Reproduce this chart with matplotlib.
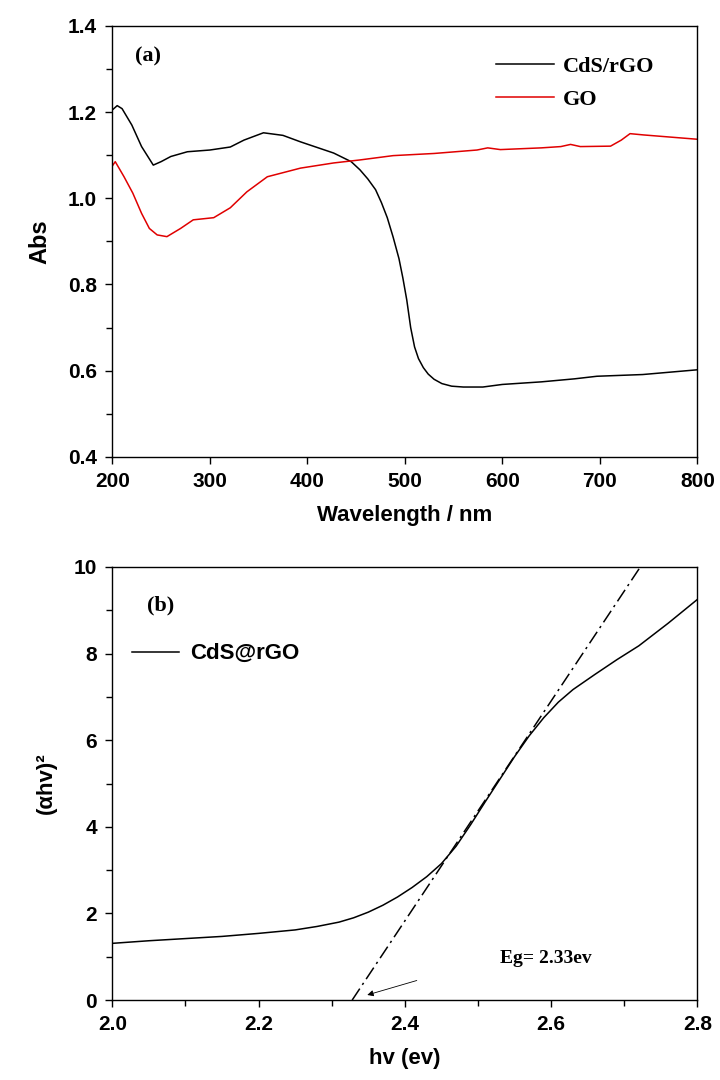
import numpy as np
import matplotlib.pyplot as plt

# panel (a) - absorbance spectra
wl_cds = [200, 205, 210, 220, 230, 242, 250, 260, 277, 300, 321, 335, 355, 375, 393, 410,
          427, 445, 454, 462, 470, 476, 482, 488, 494, 498, 502, 506, 510, 514, 519, 524,
          530, 538, 548, 560, 580, 600, 640, 674, 697, 744, 800]
abs_cds = [1.205, 1.215, 1.208, 1.17, 1.12, 1.077, 1.085, 1.097, 1.108, 1.112, 1.119, 1.135,
           1.152, 1.146, 1.131, 1.118, 1.105, 1.085, 1.066, 1.045, 1.02, 0.99, 0.955, 0.91,
           0.86, 0.815, 0.764, 0.70, 0.655, 0.628, 0.607, 0.592, 0.580, 0.570, 0.564, 0.562,
           0.562, 0.568, 0.574, 0.581, 0.587, 0.591, 0.602]
wl_go = [200, 203, 212, 221, 230, 238, 246, 256, 270, 283, 304, 321, 338, 359, 393, 427,
         454, 488, 530, 574, 585, 598, 640, 660, 670, 680, 711, 722, 731, 745, 800]
abs_go = [1.075, 1.085, 1.05, 1.012, 0.965, 0.93, 0.915, 0.911, 0.93, 0.95, 0.955, 0.978,
          1.015, 1.05, 1.07, 1.082, 1.089, 1.099, 1.104, 1.112, 1.117, 1.113, 1.117, 1.12,
          1.125, 1.12, 1.121, 1.135, 1.15, 1.147, 1.137]

# panel (b) - Tauc plot
hv = [2.00, 2.05, 2.10, 2.15, 2.20, 2.25, 2.28, 2.31, 2.33, 2.35, 2.37, 2.39, 2.41, 2.43,
      2.45, 2.47, 2.49, 2.51, 2.53, 2.55, 2.57, 2.59, 2.61, 2.63, 2.66, 2.69, 2.72, 2.76, 2.80]
ahv2 = [1.31, 1.37, 1.42, 1.47, 1.54, 1.62, 1.70, 1.80, 1.90, 2.03, 2.19, 2.38, 2.60, 2.85,
        3.15, 3.55, 4.05, 4.58, 5.10, 5.62, 6.10, 6.52, 6.88, 7.17, 7.52, 7.86, 8.18, 8.70, 9.25]
tang_x = [2.328, 2.722]
tang_y = [0, 10]

tick_font = dict(family=['Liberation Sans', 'DejaVu Sans'], weight='bold')
serif = dict(family=['Liberation Serif', 'DejaVu Serif'], weight='bold')

fig = plt.figure(figsize=(7.2, 10.8), dpi=100)
ax1 = fig.add_axes([0.156, 0.577, 0.8125, 0.399])
ax2 = fig.add_axes([0.156, 0.074, 0.8125, 0.401])

ax1.plot(wl_cds, abs_cds, color='black', lw=1.1, label='CdS/rGO')
ax1.plot(wl_go, abs_go, color='#e00000', lw=1.1, label='GO')
ax1.set_xlim(200, 800)
ax1.set_ylim(0.4, 1.4)
ax1.set_xticks(np.arange(200, 801, 100))
ax1.set_yticks(np.arange(0.4, 1.41, 0.2))
ax1.set_yticks(np.arange(0.5, 1.4, 0.2), minor=True)
ax1.set_yticklabels(['0.4', '0.6', '0.8', '1.0', '1.2', '1.4'])
ax1.set_xlabel('Wavelength / nm', fontsize=16, labelpad=10, **tick_font)
ax1.set_ylabel('Abs', fontsize=17, labelpad=12, **tick_font)
ax1.text(237, 1.33, '(a)', fontsize=16, ha='center', va='center', **serif)
ax1.legend(loc='upper right', bbox_to_anchor=(0.96, 0.975), frameon=False,
           handlelength=2.6, handletextpad=0.4, labelspacing=0.55,
           prop=dict(family=['Liberation Serif'], weight='bold', size=16))

ax2.plot(hv, ahv2, color='black', lw=1.1, label='CdS@rGO')
ax2.plot(tang_x, tang_y, color='black', lw=1.1, linestyle=(0, (9, 3, 1.5, 3)))
ax2.set_xlim(2.0, 2.8)
ax2.set_ylim(0, 10)
ax2.set_xticks(np.arange(2.0, 2.81, 0.2))
ax2.set_xticks(np.arange(2.1, 2.8, 0.2), minor=True)
ax2.set_xticklabels(['2.0', '2.2', '2.4', '2.6', '2.8'])
ax2.set_yticks(np.arange(0, 11, 2))
ax2.set_yticks(np.arange(1, 10, 2), minor=True)
ax2.set_xlabel('hv (ev)', fontsize=16, labelpad=10, **tick_font)
ax2.set_ylabel('(αhv)²', fontsize=16, labelpad=12, **tick_font)
ax2.text(2.066, 9.12, '(b)', fontsize=16, ha='center', va='center', **serif)
ax2.legend(loc='upper left', bbox_to_anchor=(0.0, 0.87), frameon=False,
           handlelength=2.1, handletextpad=0.5,
           prop=dict(family=['Liberation Sans'], weight='bold', size=16))
ax2.text(2.53, 0.97, 'Eg= 2.33ev', fontsize=14, ha='left', va='center', **serif)
ax2.annotate('', xy=(2.345, 0.1), xytext=(2.42, 0.47),
             arrowprops=dict(arrowstyle='-|>', color='black', lw=0.6, mutation_scale=9))

for ax in (ax1, ax2):
    ax.tick_params(which='both', direction='out', top=False, right=False, width=1)
    ax.tick_params(which='major', length=5, pad=6)
    ax.tick_params(which='minor', length=4)
    for lab in ax.get_xticklabels() + ax.get_yticklabels():
        lab.set_fontsize(15)
        lab.set_fontweight('bold')
        lab.set_family(['Liberation Sans', 'DejaVu Sans'])
    for s in ax.spines.values():
        s.set_linewidth(1.0)

fig.savefig('out.png', dpi=100)
